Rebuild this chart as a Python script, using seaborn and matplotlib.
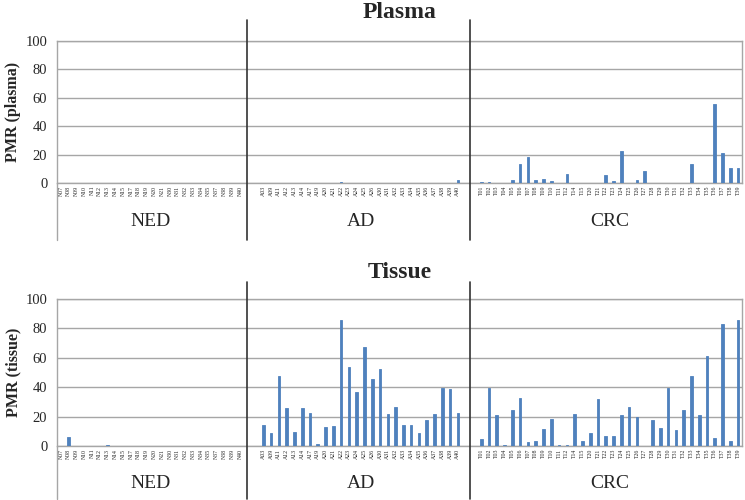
import numpy as np
import pandas as pd
import matplotlib
matplotlib.use("Agg")
import matplotlib.pyplot as plt
import seaborn as sns

sns.set_theme(style="white")
plt.rcParams['font.family'] = ['Liberation Serif', 'DejaVu Serif']

# ---- categories ----
ned_labels = ["N07", "N08", "N09", "N10", "N11", "N12", "N13", "N14", "N15", "N17", "N18", "N19",
              "N20", "N21", "N30", "N31", "N32", "N33", "N34", "N35", "N37", "N38", "N39", "N40"]
ad_labels = ["A03", "A09", "A11", "A12", "A13", "A14", "A17", "A19", "A20", "A21", "A22", "A23", "A24",
             "A25", "A26", "A30", "A31", "A32", "A33", "A34", "A35", "A36", "A37", "A38", "A39", "A40"]
crc_labels = ["T01", "T02", "T03", "T04", "T05", "T06", "T07", "T08", "T09", "T10", "T11", "T12",
              "T14", "T15", "T20", "T21", "T22", "T23", "T24", "T25", "T26", "T27", "T28", "T29",
              "T30", "T31", "T32", "T33", "T34", "T35", "T36", "T37", "T38", "T39"]
group_names = ["NED", "AD", "CRC"]

# ---- values: plasma ----
plasma_ned = [0] * 24
plasma_ad = [0, 0, 0, 0, 0, 0, 0, 0, 0, 0, 0.6, 0, 0, 0, 0, 0, 0, 0, 0, 0, 0, 0, 0, 0, 0, 2.2]
plasma_crc = [0.5, 0.5, 0, 0, 2.3, 13.6, 18.3, 2.1, 2.8, 1.4, 0, 6.1, 0, 0, 0, 0, 5.6, 1.4,
              22.3, 0, 2.3, 8.7, 0, 0, 0, 0, 0, 13.4, 0, 0, 55.6, 20.9, 10.5, 10.5]

# ---- values: tissue ----
tissue_ned = [0.3, 5.9, 0, 0, 0, 0, 0.5, 0, 0, 0, 0, 0, 0, 0, 0.3, 0, 0, 0.3, 0, 0, 0, 0, 0, 0]
tissue_ad = [14.3, 8.9, 47.7, 26.1, 9.3, 25.7, 22.5, 1.4, 13.0, 13.9, 85.7, 53.6, 36.8,
             67.5, 45.9, 52.7, 21.6, 26.6, 14.3, 14.3, 9.1, 17.5, 21.6, 39.5, 39.1, 22.7]
tissue_crc = [4.5, 39.3, 21.4, 0.7, 24.3, 32.7, 2.5, 3.4, 11.4, 18.2, 0.9, 0.9, 21.6, 3.2,
              9.1, 32.0, 6.6, 7.0, 20.9, 26.8, 19.8, 0.2, 17.5, 12.3, 39.3, 10.7, 24.3, 47.5,
              20.9, 61.4, 5.2, 82.7, 3.6, 85.7]

BAR = "#4F81BD"
GRID = "#A6A6A6"
SEP = "#333333"

blank1 = [" ", "  "]
blank2 = ["   ", "    "]
order = ned_labels + blank1 + ad_labels + blank2 + crc_labels


def build(ned, ad, crc):
    return pd.DataFrame({
        "cat": order,
        "val": list(ned) + [0, 0] + list(ad) + [0, 0] + list(crc),
    })


fig = plt.figure(figsize=(7.45, 5.0), dpi=100)
W, H = 745.0, 500.0
axL, axR = 57.0, 742.0

panels = [
    ("Plasma", "PMR (plasma)", build(plasma_ned, plasma_ad, plasma_crc), 41.0, 183.0, 13.0, 20.0, 240.0, 222.0),
    ("Tissue", "PMR (tissue)", build(tissue_ned, tissue_ad, tissue_crc), 299.0, 446.0, 273.0, 282.0, 499.0, 484.0),
]

n_ned = len(ned_labels)
n_ad = len(ad_labels)
n_all = len(order)
sep_positions = [n_ned - 0.1, n_ned + 2 + n_ad + 0.6]
group_centers = [(n_ned - 1) / 2.0,
                 n_ned + 2 + (n_ad - 1) / 2.0,
                 n_ned + 2 + n_ad + 2 + (len(crc_labels) - 1) / 2.0]

for title, ylab, df, ytop, ybot, ytitle, ysep_top, ysep_bot, ygroup in panels:
    ax = fig.add_axes([axL / W, 1 - ybot / H, (axR - axL) / W, (ybot - ytop) / H])
    sns.barplot(data=df, x="cat", y="val", order=order, color=BAR, width=0.34,
                saturation=1, ax=ax, zorder=3, edgecolor=BAR, linewidth=0.6)
    ax.set_ylim(0, 100)
    ax.set_xlim(-0.5, n_all - 0.5)
    ax.set_yticks([0, 20, 40, 60, 80, 100])
    ax.yaxis.grid(True, color=GRID, linewidth=1.0, zorder=0)
    ax.set_axisbelow(True)
    for s in ax.spines.values():
        s.set_color(GRID)
        s.set_linewidth(1.0)
    ax.tick_params(axis="y", length=0, labelsize=10.5, pad=7)
    ax.tick_params(axis="x", length=0, pad=2)
    ax.set_xticks(range(n_all))
    ax.set_xticklabels(order, rotation=90, fontsize=4.2, va="top", ha="center")
    ax.set_xlabel("")
    ax.set_ylabel(ylab, fontsize=11.5, fontweight="bold", labelpad=3)

    # group separators
    h = ybot - ytop
    y0 = (ybot - ysep_bot) / h
    y1 = (ybot - ysep_top) / h
    for xs in sep_positions:
        ax.plot([xs, xs], [y0, y1], color=SEP, linewidth=1.2,
                transform=ax.get_xaxis_transform(), clip_on=False, zorder=5)
    ax.plot([-0.5, -0.5], [y0, 0], color=GRID, linewidth=1.0,
            transform=ax.get_xaxis_transform(), clip_on=False)

    # group labels
    yg = (ybot - ygroup) / h
    for name, xc in zip(group_names, group_centers):
        ax.text(xc, yg, name, transform=ax.get_xaxis_transform(), ha="center",
                va="center", fontsize=14)

    fig.text(400 / W, 1 - ytitle / H, title, ha="center", va="center",
             fontsize=17, fontweight="bold")

fig.savefig("out.png", dpi=100)
